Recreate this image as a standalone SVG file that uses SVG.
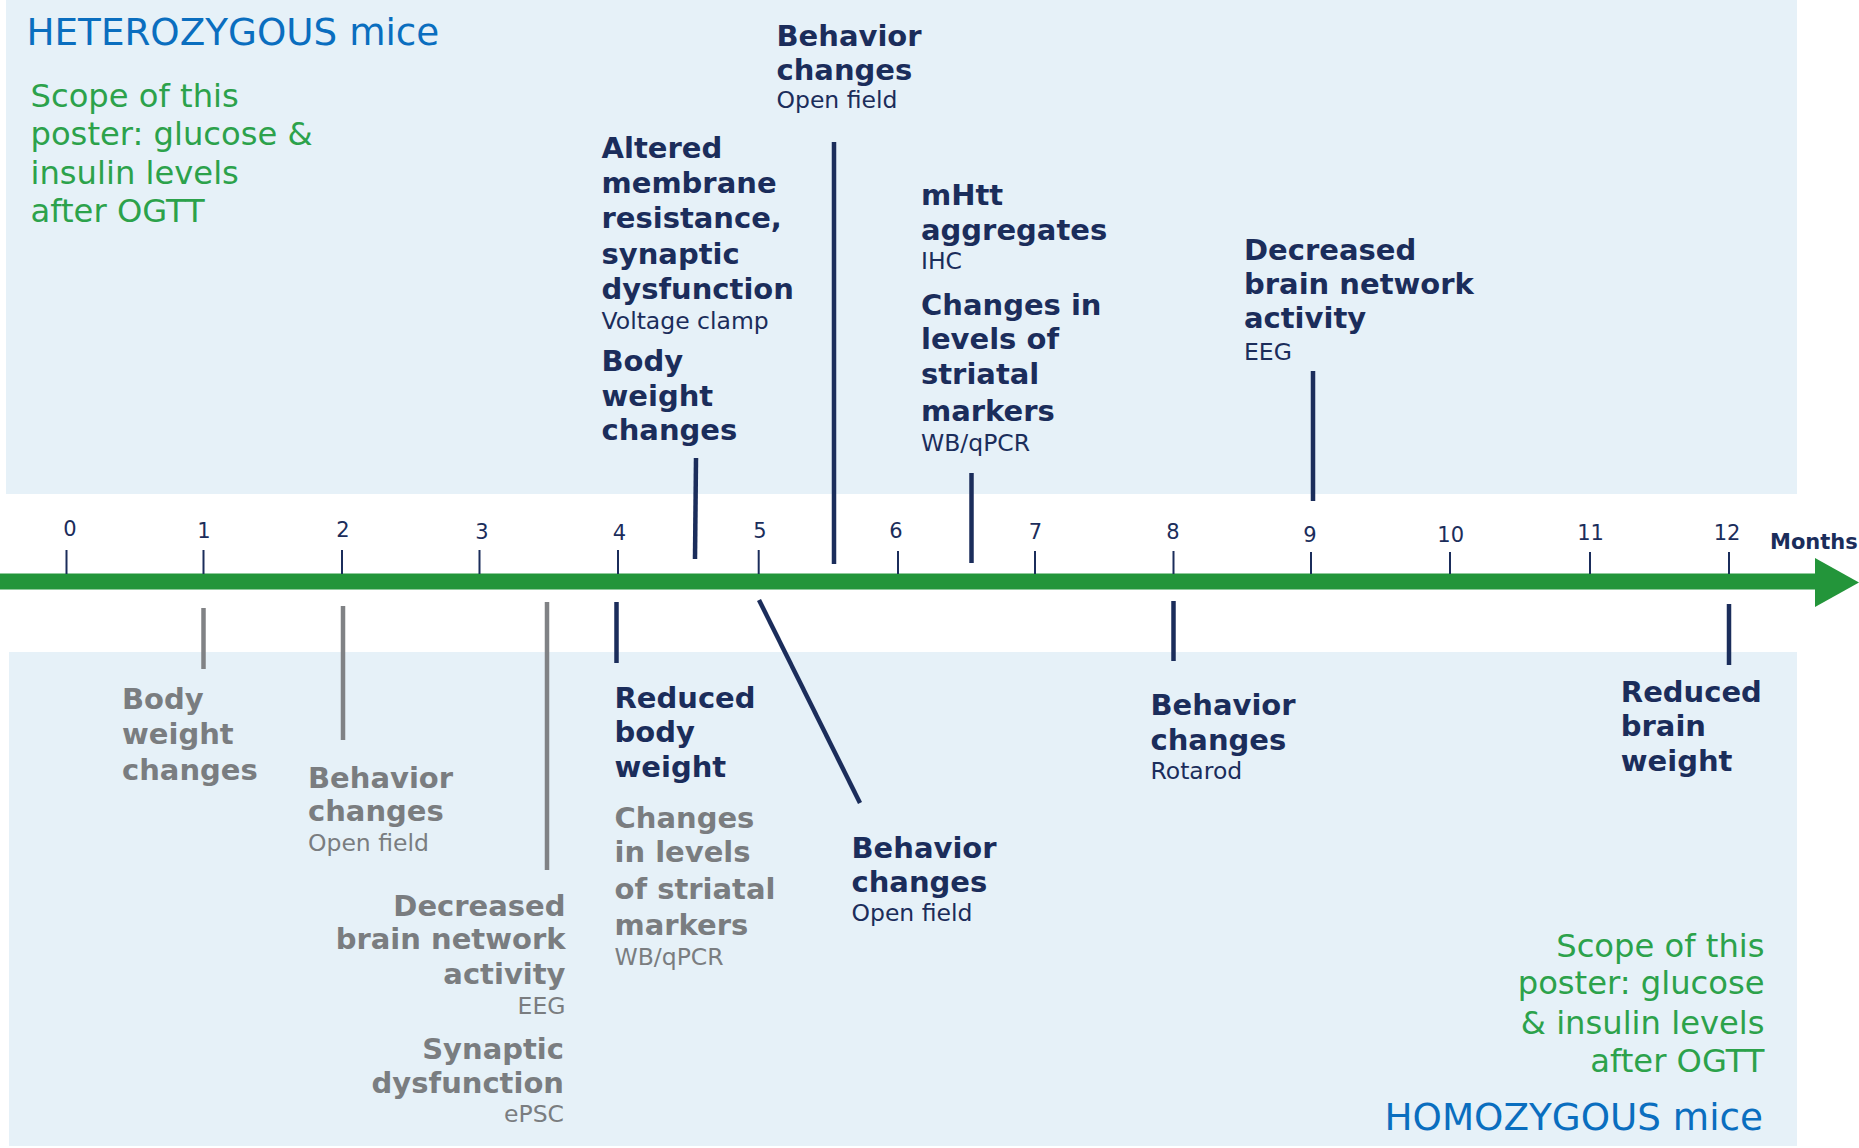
<svg xmlns="http://www.w3.org/2000/svg" width="1859" height="1148" viewBox="0 0 1859 1148">
<style>
text{font-family:"DejaVu Sans","Verdana",sans-serif}
.t{font-size:29px;font-weight:bold}
.s{font-size:23.5px}
.navy{fill:#1b2d5b}
.grey{fill:#7a7d80}
.green{fill:#2ca24b;font-size:32.2px}
.head{fill:#0a6ebf;font-size:37.3px}
.num{font-size:21px;fill:#1b2d5b;text-anchor:middle}
.end{text-anchor:end}
.ln{stroke:#1b2d5b;stroke-width:4.5;fill:none}
.lg{stroke:#808285;stroke-width:4.5;fill:none}
.tick{stroke:#1b2d5b;stroke-width:2}
</style>
<rect x="6" y="0" width="1791" height="494" fill="#e6f1f8"/>
<rect x="9" y="652" width="1788" height="494" fill="#e6f1f8"/>
<g id="axis">
<rect x="0" y="573.5" width="1817" height="16" fill="#23953a"/>
<polygon points="1815,558 1859,582.5 1815,607" fill="#23953a"/>
<g class="ticks">
<line class="tick" x1="66.5" y1="550" x2="66.5" y2="574"/>
<line class="tick" x1="203.5" y1="550" x2="203.5" y2="574"/>
<line class="tick" x1="342" y1="550" x2="342" y2="574"/>
<line class="tick" x1="479.5" y1="550" x2="479.5" y2="574"/>
<line class="tick" x1="618" y1="550" x2="618" y2="574"/>
<line class="tick" x1="758.7" y1="550" x2="758.7" y2="574"/>
<line class="tick" x1="898" y1="551" x2="898" y2="574"/>
<line class="tick" x1="1035" y1="551" x2="1035" y2="574"/>
<line class="tick" x1="1173.5" y1="551" x2="1173.5" y2="574"/>
<line class="tick" x1="1311" y1="552" x2="1311" y2="574"/>
<line class="tick" x1="1450" y1="552" x2="1450" y2="574"/>
<line class="tick" x1="1590" y1="552" x2="1590" y2="574"/>
<line class="tick" x1="1729" y1="552" x2="1729" y2="574"/>
</g>
<text class="num" x="70" y="536">0</text>
<text class="num" x="204" y="537.5">1</text>
<text class="num" x="343" y="537">2</text>
<text class="num" x="482" y="538.5">3</text>
<text class="num" x="619.5" y="539.5">4</text>
<text class="num" x="760" y="538">5</text>
<text class="num" x="896" y="538">6</text>
<text class="num" x="1035.5" y="539">7</text>
<text class="num" x="1173" y="539">8</text>
<text class="num" x="1310" y="541.5">9</text>
<text class="num" x="1450.7" y="541.5">10</text>
<text class="num" x="1590.6" y="539.5">11</text>
<text class="num" x="1727" y="539.5">12</text>
<text class="navy" x="1770" y="549" style="font-size:21px;font-weight:bold">Months</text>
</g>
<g id="connectors">
<line class="ln" x1="696" y1="458" x2="695" y2="559"/>
<line class="ln" x1="834" y1="142" x2="834" y2="564"/>
<line class="ln" x1="971.5" y1="473" x2="971.5" y2="563"/>
<line class="ln" x1="1313" y1="371" x2="1313" y2="501"/>
<line class="lg" x1="203.5" y1="608" x2="203.5" y2="669"/>
<line class="lg" x1="343" y1="606" x2="343" y2="740"/>
<line class="lg" x1="547" y1="602" x2="547" y2="870"/>
<line class="ln" x1="616.5" y1="602" x2="616.5" y2="663"/>
<line class="ln" x1="759" y1="600" x2="860" y2="803"/>
<line class="ln" x1="1173.5" y1="601" x2="1173.5" y2="661"/>
<line class="ln" x1="1729" y1="604" x2="1729" y2="665"/>
</g>
<g id="het-title"><text class="head" x="26.5" y="45">HETEROZYGOUS mice</text></g>
<g id="het-scope">
<text class="green" x="30.5" y="107">Scope of this</text>
<text class="green" x="30.5" y="144.5">poster: glucose &amp;</text>
<text class="green" x="30.5" y="184">insulin levels</text>
<text class="green" x="30.5" y="222">after OGTT</text>
</g>
<g id="het-behavior-openfield" class="navy">
<text class="t" x="776.5" y="46">Behavior</text>
<text class="t" x="776.5" y="80">changes</text>
<text class="s" x="776.5" y="108">Open field</text>
</g>
<g id="het-altered-membrane" class="navy">
<text class="t" x="601.5" y="157.5">Altered</text>
<text class="t" x="601.5" y="192.5">membrane</text>
<text class="t" x="601.5" y="227.5">resistance,</text>
<text class="t" x="601.5" y="263.5">synaptic</text>
<text class="t" x="601.5" y="298.5">dysfunction</text>
<text class="s" x="601.5" y="329">Voltage clamp</text>
</g>
<g id="het-body-weight" class="navy">
<text class="t" x="601.5" y="371">Body</text>
<text class="t" x="601.5" y="405.5">weight</text>
<text class="t" x="601.5" y="440">changes</text>
</g>
<g id="het-mhtt" class="navy">
<text class="t" x="921" y="205">mHtt</text>
<text class="t" x="921" y="239.5">aggregates</text>
<text class="s" x="921" y="268.5">IHC</text>
</g>
<g id="het-striatal" class="navy">
<text class="t" x="921" y="315">Changes in</text>
<text class="t" x="921" y="349">levels of</text>
<text class="t" x="921" y="384">striatal</text>
<text class="t" x="921" y="420.5">markers</text>
<text class="s" x="921" y="450.5">WB/qPCR</text>
</g>
<g id="het-brain-network" class="navy">
<text class="t" x="1244" y="260">Decreased</text>
<text class="t" x="1244" y="294">brain network</text>
<text class="t" x="1244" y="328">activity</text>
<text class="s" x="1244" y="359.5">EEG</text>
</g>
<g id="hom-body-weight" class="grey">
<text class="t" x="122" y="709">Body</text>
<text class="t" x="122" y="744">weight</text>
<text class="t" x="122" y="779.5">changes</text>
</g>
<g id="hom-behavior-openfield-early" class="grey">
<text class="t" x="308" y="787.5">Behavior</text>
<text class="t" x="308" y="821">changes</text>
<text class="s" x="308" y="850.5">Open field</text>
</g>
<g id="hom-brain-network" class="grey">
<text class="t end" x="565.5" y="915.5">Decreased</text>
<text class="t end" x="565.5" y="949">brain network</text>
<text class="t end" x="565.5" y="983.5">activity</text>
<text class="s end" x="565.5" y="1014">EEG</text>
</g>
<g id="hom-synaptic" class="grey">
<text class="t end" x="564" y="1059">Synaptic</text>
<text class="t end" x="564" y="1093">dysfunction</text>
<text class="s end" x="564" y="1121.5">ePSC</text>
</g>
<g id="hom-reduced-body" class="navy">
<text class="t" x="614.5" y="708">Reduced</text>
<text class="t" x="614.5" y="742">body</text>
<text class="t" x="614.5" y="777">weight</text>
</g>
<g id="hom-striatal" class="grey">
<text class="t" x="614.5" y="828">Changes</text>
<text class="t" x="614.5" y="862">in levels</text>
<text class="t" x="614.5" y="898.7">of striatal</text>
<text class="t" x="614.5" y="935.2">markers</text>
<text class="s" x="614.5" y="964.5">WB/qPCR</text>
</g>
<g id="hom-behavior-openfield" class="navy">
<text class="t" x="851.5" y="857.5">Behavior</text>
<text class="t" x="851.5" y="892">changes</text>
<text class="s" x="851.5" y="921">Open field</text>
</g>
<g id="hom-behavior-rotarod" class="navy">
<text class="t" x="1150.5" y="715">Behavior</text>
<text class="t" x="1150.5" y="749.5">changes</text>
<text class="s" x="1150.5" y="778.5">Rotarod</text>
</g>
<g id="hom-reduced-brain" class="navy">
<text class="t" x="1620.8" y="702">Reduced</text>
<text class="t" x="1620.8" y="736.3">brain</text>
<text class="t" x="1620.8" y="771.3">weight</text>
</g>
<g id="hom-scope">
<text class="green end" x="1764.5" y="957">Scope of this</text>
<text class="green end" x="1764.5" y="994">poster: glucose</text>
<text class="green end" x="1764.5" y="1034.2">&amp; insulin levels</text>
<text class="green end" x="1764.5" y="1072">after OGTT</text>
</g>
<g id="hom-title"><text class="head end" x="1763" y="1129.5">HOMOZYGOUS mice</text></g>
</svg>
